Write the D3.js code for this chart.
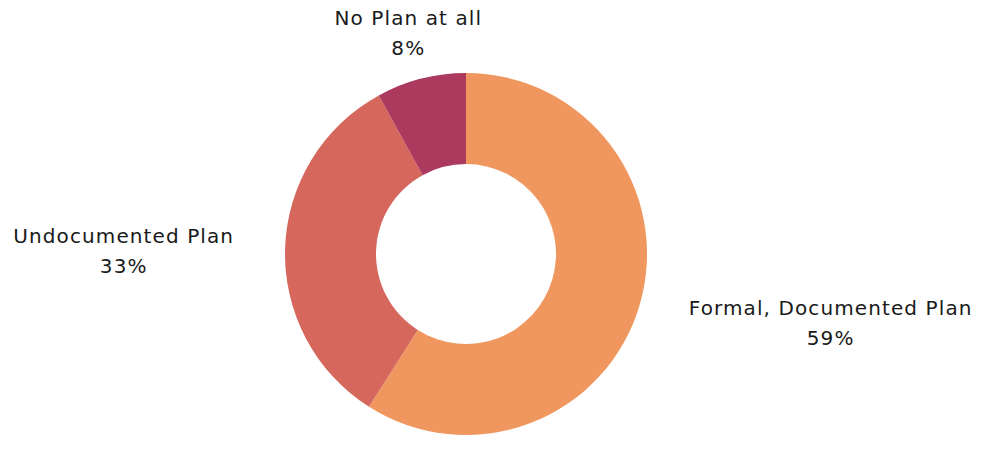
<!DOCTYPE html>
<html><head><meta charset="utf-8">
<script src="https://cdn.jsdelivr.net/npm/d3@7"></script>
<style>body{margin:0;background:#fff}svg{display:block}text{font-family:"DejaVu Sans",sans-serif;fill:#1a1a1a;letter-spacing:1.1px}</style>
</head><body><svg id="c" width="992" height="458"></svg>
<script>
const categories = ["Formal, Documented Plan", "Undocumented Plan", "No Plan at all"];
const values = [59, 33, 8];
const colors = ["#F0975F", "#D5675C", "#AB3A5E"];

const W = 992, H = 458, cx = 466, cy = 254, outerR = 181, innerR = 90, labelR = 232;
const svg = d3.select("#c");
const g = svg.append("g").attr("transform", `translate(${cx},${cy})`);
const data = categories.map((c, i) => ({cat: c, value: values[i], color: colors[i]}));
const pie = d3.pie().value(d => d.value).sort(null);
const arcs = pie(data);
const arc = d3.arc().innerRadius(innerR).outerRadius(outerR);
g.selectAll("path").data(arcs).join("path").attr("d", arc).attr("fill", d => d.data.color);

const labelArc = d3.arc().innerRadius(labelR).outerRadius(labelR);
g.selectAll("g.lab").data(arcs).join("g").attr("class", "lab").each(function(d) {
  const [x, y] = labelArc.centroid(d);
  const s = d3.select(this);
  const t1 = s.append("text").attr("text-anchor", "middle").attr("y", y - 4).attr("font-size", 20).text(d.data.cat);
  const t2 = s.append("text").attr("text-anchor", "middle").attr("y", y + 26).attr("font-size", 20).text(d.data.value + "%");
  const bw = Math.max(t1.node().getComputedTextLength(), t2.node().getComputedTextLength());
  const c = x > 100 ? x + bw / 2 : (x < -100 ? x - bw / 2 : x);
  t1.attr("x", c); t2.attr("x", c);
});
</script></body></html>
